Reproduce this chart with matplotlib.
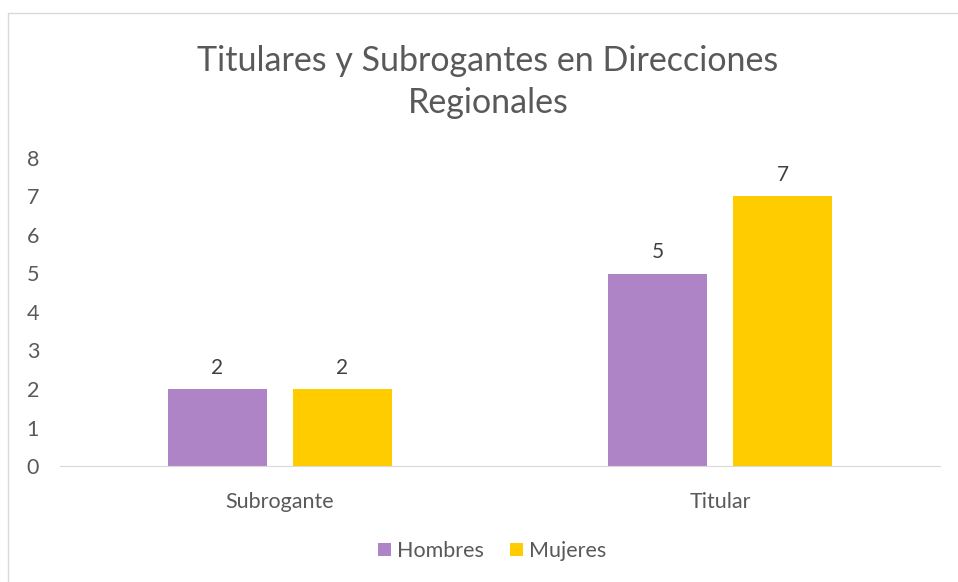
import matplotlib.pyplot as plt
import numpy as np
from matplotlib.patches import Rectangle

# datos
categorias = ['Subrogante', 'Titular']
hombres = [2, 5]
mujeres = [2, 7]
series = ['Hombres', 'Mujeres']
colores = ['#AE84C6', '#FFCC00']

plt.rcParams['font.family'] = ['Lato', 'DejaVu Sans']
gris = '#595959'

fig = plt.figure(figsize=(9.58, 5.82), dpi=100)
ax = fig.add_axes([60 / 958, (582 - 466) / 582, 880 / 958, (466 - 158) / 582])

x = np.arange(len(categorias))
ancho = 0.225
desp = 0.142
b1 = ax.bar(x - desp, hombres, ancho, color=colores[0], label=series[0])
b2 = ax.bar(x + desp, mujeres, ancho, color=colores[1], label=series[1])

for barras in (b1, b2):
    for b in barras:
        ax.annotate(str(int(b.get_height())), (b.get_x() + b.get_width() / 2, b.get_height()),
                    xytext=(0, 8), textcoords='offset points', ha='center', va='bottom',
                    fontsize=15, color='#404040')

ax.set_xlim(-0.5, 1.5)
ax.set_ylim(0, 8)
ax.set_yticks(range(0, 9))
ax.set_xticks(x)
ax.set_xticklabels(categorias)
ax.tick_params(axis='both', length=0, labelsize=15.5, colors=gris)
ax.tick_params(axis='x', pad=19)
ax.tick_params(axis='y', pad=24)
for lbl in ax.get_yticklabels():
    lbl.set_horizontalalignment('left')
for s in ['top', 'right', 'left']:
    ax.spines[s].set_visible(False)
ax.spines['bottom'].set_color('#D9D9D9')

fig.text(488 / 958, 1 - 82 / 582, 'Titulares y Subrogantes en Direcciones\nRegionales',
         ha='center', va='center', fontsize=24.5, color=gris, linespacing=1.38)

fig.legend(loc='center', bbox_to_anchor=(492 / 958, 1 - 551 / 582), ncol=2, frameon=False,
           fontsize=15.5, labelcolor=gris, handlelength=0.6, handleheight=0.6,
           handletextpad=0.3, columnspacing=1.2)

# borde del grafico
fig.patches.append(Rectangle((8 / 958, -0.1), 1.2, 1 - 13 / 582 + 0.1, transform=fig.transFigure,
                             fill=False, edgecolor='#D9D9D9', linewidth=1))

fig.savefig('out.png', dpi=100)
